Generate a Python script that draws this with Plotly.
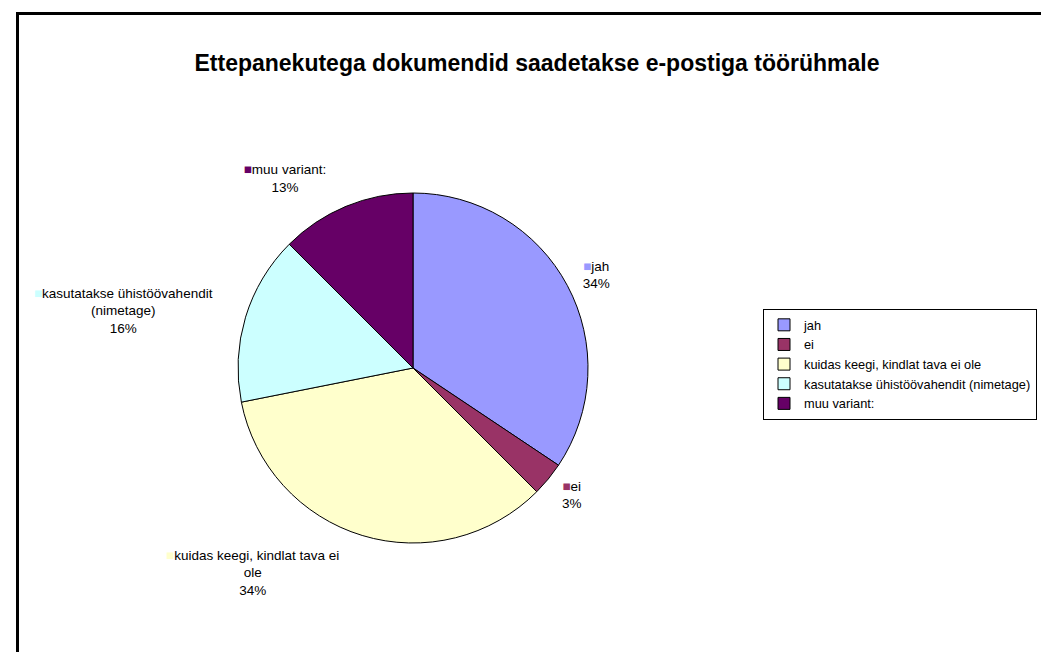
import plotly.graph_objects as go

TITLE = "Ettepanekutega dokumendid saadetakse e-postiga töörühmale"

categories = [
    "jah",
    "ei",
    "kuidas keegi, kindlat tava ei ole",
    "kasutatakse ühistöövahendit (nimetage)",
    "muu variant:",
]
# label text on the pie (with Excel-style line breaks)
slice_labels = [
    "jah",
    "ei",
    "kuidas keegi, kindlat tava ei<br>ole",
    "kasutatakse ühistöövahendit<br>(nimetage)",
    "muu variant:",
]
counts = [11, 1, 11, 5, 4]
colors = ["#9999FF", "#993366", "#FFFFCC", "#CCFFFF", "#660066"]

W, H = 1049, 652
FONT = "Liberation Sans, Arial, sans-serif"

# pie centre / radius in pixels, label ring a bit further out
cx, cy, r = 405, 360, 175
lx, r_lbl = cx - 6, 190


def dom(x0, rad):
    return dict(x=[(x0 - rad) / W, (x0 + rad) / W],
                y=[1 - (cy + rad) / H, 1 - (cy - rad) / H])


text = [f"<span style='color:{c}'>■</span>{t}" for c, t in zip(colors, slice_labels)]

fig = go.Figure()

# transparent ring that only carries the outside labels
fig.add_trace(go.Pie(
    labels=categories,
    values=counts,
    text=text,
    texttemplate="%{text}<br>%{percent:.0%}",
    textposition="outside",
    textfont=dict(family=FONT, size=13.5, color="black"),
    marker=dict(colors=["rgba(0,0,0,0)"] * len(counts), line=dict(width=0)),
    sort=False,
    direction="clockwise",
    rotation=0,
    domain=dom(lx, r_lbl),
    showlegend=False,
    hoverinfo="skip",
))

fig.add_trace(go.Pie(
    labels=categories,
    values=counts,
    textinfo="none",
    marker=dict(colors=colors, line=dict(color="black", width=1)),
    sort=False,
    direction="clockwise",
    rotation=0,
    domain=dom(cx, r),
    hoverinfo="label+percent",
))

fig.update_layout(
    width=W, height=H,
    margin=dict(l=0, r=0, t=0, b=0),
    paper_bgcolor="white",
    plot_bgcolor="white",
    font=dict(family=FONT, size=13, color="black"),
    title=dict(text=f"<b>{TITLE}</b>", x=529 / W, xanchor="center",
               y=1 - 55 / H, yanchor="middle",
               font=dict(family=FONT, size=23, color="black")),
    legend=dict(x=755 / W, y=1 - 301 / H, xanchor="left", yanchor="top",
                bordercolor="black", borderwidth=1, bgcolor="white",
                itemwidth=30, tracegroupgap=0,
                font=dict(family=FONT, size=12.8, color="black")),
    shapes=[dict(type="rect", xref="paper", yref="paper",
                 x0=9.5 / W, x1=1.05, y0=-0.05, y1=1 - 5.5 / H,
                 line=dict(color="black", width=3), layer="above")],
)

fig.write_html("out.html")
